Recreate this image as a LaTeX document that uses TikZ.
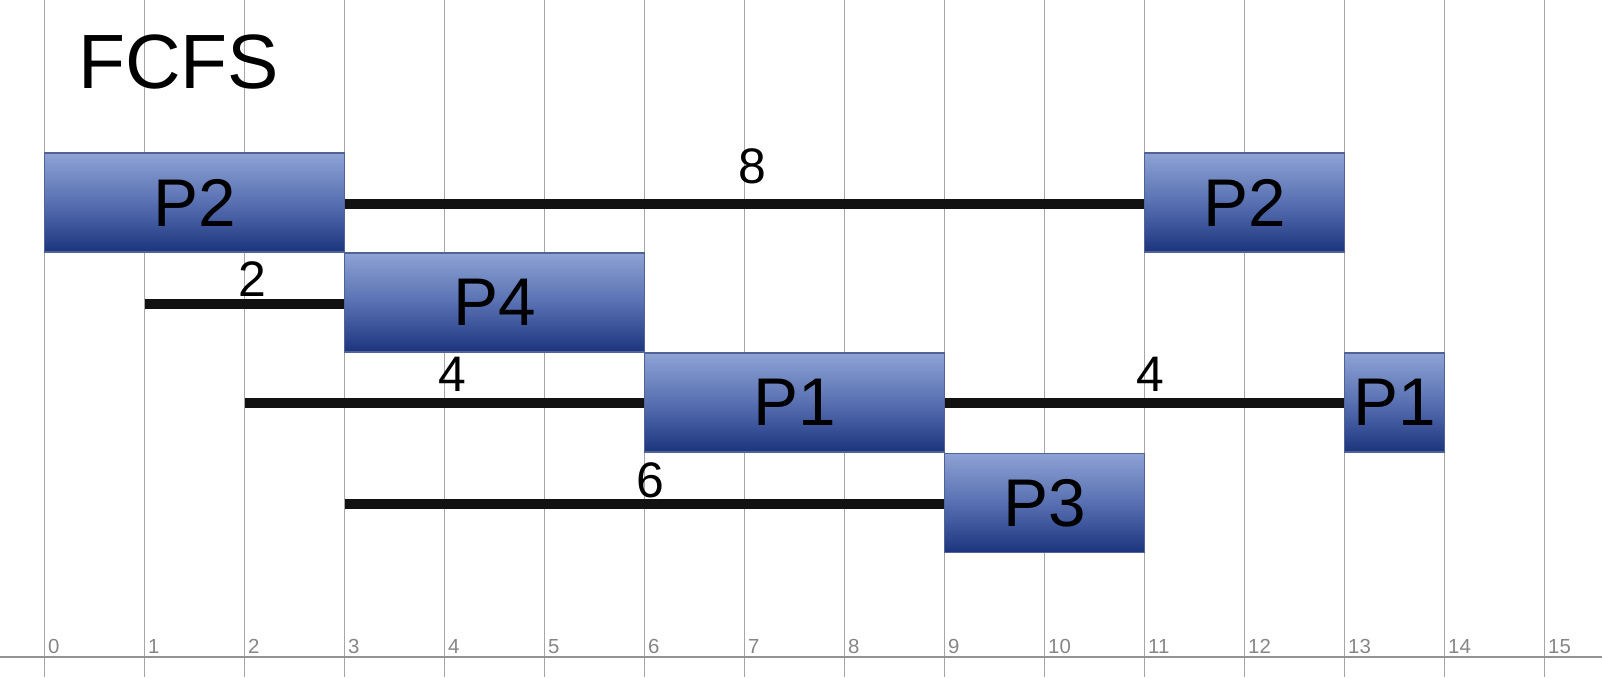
\documentclass[tikz,border=0pt]{standalone}
\usepackage{fontspec}
\setmainfont{Liberation Sans}
\begin{document}
\begin{tikzpicture}[x=1cm,y=-1cm,
  gridline/.style={draw=gray!70, line width=0.35pt},
  axisline/.style={draw=gray!85, line width=0.8pt},
  ticklabel/.style={anchor=base west, inner sep=0pt, text=gray!95, font=\fontsize{5.8}{7}\selectfont},
  proc/.style={draw={rgb,255:red,80;green,98;blue,150}, line width=0.4pt, minimum height=0.99cm, inner sep=0pt,
    top color={rgb,255:red,142;green,162;blue,212}, bottom color={rgb,255:red,28;green,52;blue,125},
    middle color={rgb,255:red,88;green,112;blue,178}, font=\fontsize{19.2}{21}\selectfont},
  waitbar/.style={draw=black!93, line width=2.9pt},
  num/.style={inner sep=0pt, font=\fontsize{14.2}{16}\selectfont},
]
\useasboundingbox (0,0) rectangle (16.02,6.77);
% grid
\foreach \t in {0,...,15} {
  \draw[gridline] (0.445+\t,0) -- (0.445+\t,6.77);
  \node[ticklabel] (tick\t) at (0.475+\t,6.53) {\t};
}
\draw[axisline] (0,6.57) -- (16.02,6.57);
% title
\node[anchor=base west, inner sep=0pt, font=\fontsize{21.9}{24}\selectfont] (title) at (0.775,0.88) {FCFS};
% free line starts
\coordinate (s2) at (1.445,3.04);
\coordinate (s3) at (2.445,4.03);
\coordinate (s4) at (3.445,5.04);
% boxes
\node[proc, minimum width=3cm] (p2a) at (1.945,2.025) {P2};
\node[proc, minimum width=2cm] (p2b) at (12.445,2.025) {P2};
\node[proc, minimum width=3cm] (p4) at (4.945,3.025) {P4};
\node[proc, minimum width=3cm] (p1a) at (7.945,4.025) {P1};
\node[proc, minimum width=1cm] (p1b) at (13.945,4.025) {P1};
\node[proc, minimum width=2cm] (p3) at (10.445,5.03) {P3};
% waiting bars
\draw[waitbar] ([yshift=-0.5pt]p2a.east) -- ([yshift=-0.5pt]p2b.west);
\draw[waitbar] (s2) -- (s2 -| p4.west);
\draw[waitbar] (s3) -- (s3 -| p1a.west);
\draw[waitbar] (s3 -| p1a.east) -- (s3 -| p1b.west);
\draw[waitbar] (s4) -- (s4 -| p3.west);
% labels
\node[num] (w8) at (7.52,1.66) {8};
\node[num] (w2) at (2.52,2.795) {2};
\node[num] (w4a) at (4.52,3.74) {4};
\node[num] (w4b) at (11.50,3.74) {4};
\node[num] (w6) at (6.50,4.805) {6};
\end{tikzpicture}
\end{document}
